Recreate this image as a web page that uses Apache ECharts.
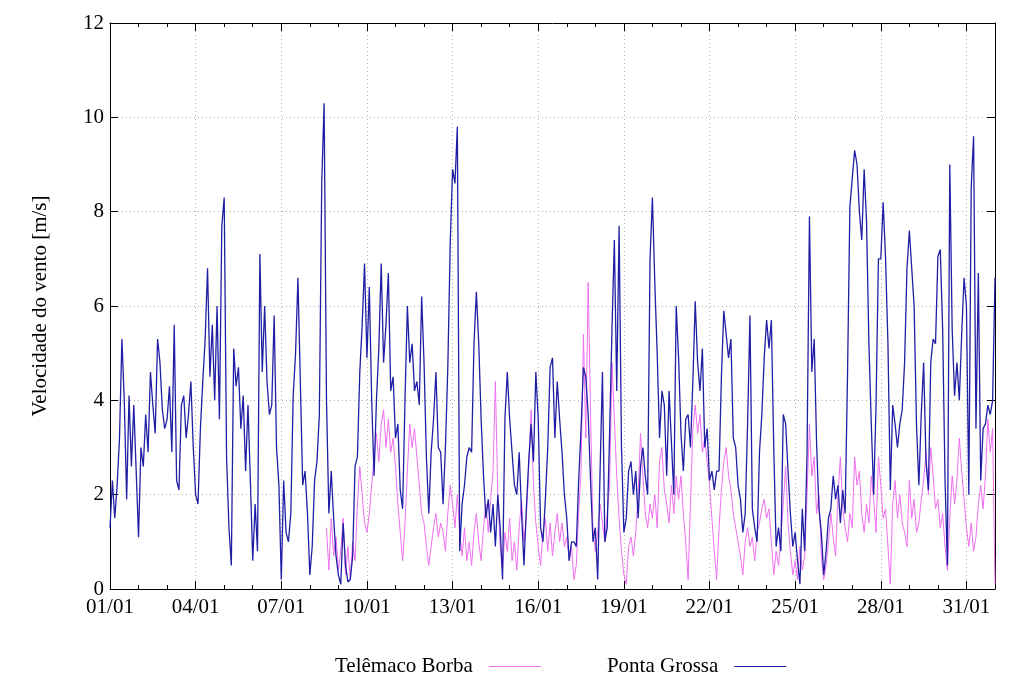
<!DOCTYPE html>
<html>
<head>
<meta charset="utf-8">
<script src="https://cdn.jsdelivr.net/npm/echarts@6/dist/echarts.min.js"></script>
<style>html,body{margin:0;padding:0;background:#fff}#c{width:1024px;height:683px}</style>
</head>
<body>
<div id="c"></div>
<script>
// Wind speed (m/s), 2-hour steps, 12 values per day, January (day 0 = 01/01 00:00)
const seriesNames = ['Telêmaco Borba', 'Ponta Grossa'];
const xTickLabels = ['01/01','04/01','07/01','10/01','13/01','16/01','19/01','22/01','25/01','28/01','31/01'];
const yTicks = [0, 2, 4, 6, 8, 10, 12];

const pontaGrossa = [
  [1.3, 2.3, 1.5, 2.2, 3.2, 5.3, 4.0, 1.9, 4.1, 2.6, 3.9, 2.5],
  [1.1, 3.0, 2.6, 3.7, 2.9, 4.6, 3.9, 3.3, 5.3, 4.8, 3.8, 3.4],
  [3.6, 4.3, 2.9, 5.6, 2.3, 2.1, 3.9, 4.1, 3.2, 3.7, 4.4, 3.0],
  [2.0, 1.8, 3.4, 4.4, 5.3, 6.8, 4.5, 5.6, 4.0, 6.0, 3.6, 7.7],
  [8.3, 2.8, 1.3, 0.5, 5.1, 4.3, 4.7, 3.4, 4.1, 2.5, 3.9, 2.3],
  [0.6, 1.8, 0.8, 7.1, 4.6, 6.0, 4.4, 3.7, 3.9, 5.8, 3.0, 2.2],
  [0.2, 2.3, 1.2, 1.0, 1.6, 4.1, 5.0, 6.6, 4.4, 2.2, 2.5, 1.6],
  [0.3, 0.9, 2.3, 2.7, 3.7, 8.6, 10.3, 4.0, 1.6, 2.5, 1.5, 0.7],
  [0.3, 0.1, 1.4, 0.5, 0.15, 0.2, 0.7, 2.6, 2.8, 4.6, 5.6, 6.9],
  [4.9, 6.4, 4.0, 2.4, 4.0, 5.1, 6.9, 4.8, 5.6, 6.7, 4.2, 4.5],
  [3.2, 3.5, 2.1, 1.7, 4.0, 6.0, 4.8, 5.2, 4.2, 4.4, 3.9, 6.2],
  [4.8, 2.8, 1.6, 2.9, 3.6, 4.6, 3.0, 2.9, 1.8, 3.0, 4.7, 7.3],
  [8.9, 8.6, 9.8, 0.8, 1.8, 2.2, 2.8, 3.0, 2.9, 5.2, 6.3, 5.2],
  [3.6, 2.4, 1.5, 1.9, 1.2, 1.8, 0.9, 2.0, 1.3, 0.2, 3.6, 4.6],
  [3.6, 2.9, 2.2, 2.0, 2.9, 1.6, 0.5, 1.7, 2.7, 3.5, 2.7, 4.6],
  [3.6, 1.3, 1.0, 1.9, 3.0, 4.7, 4.9, 3.2, 4.4, 3.6, 2.9, 2.0],
  [1.5, 0.6, 1.0, 1.0, 0.9, 2.3, 3.4, 4.7, 4.5, 3.7, 2.3, 1.0],
  [1.3, 0.2, 2.5, 4.6, 1.0, 1.3, 3.3, 5.5, 7.4, 4.2, 7.7, 3.0],
  [1.2, 1.5, 2.5, 2.7, 2.0, 2.5, 1.5, 2.6, 3.0, 2.4, 2.0, 7.0],
  [8.3, 6.5, 5.0, 3.2, 4.2, 3.9, 2.4, 4.2, 3.1, 2.0, 6.0, 4.9],
  [3.3, 2.5, 3.6, 3.7, 3.0, 4.4, 6.1, 4.8, 4.2, 5.1, 3.0, 3.4],
  [2.3, 2.5, 2.1, 2.5, 2.5, 4.5, 5.9, 5.4, 4.9, 5.3, 3.2, 3.0],
  [2.2, 1.9, 1.2, 1.6, 3.5, 5.8, 1.7, 1.3, 1.0, 2.9, 3.7, 4.9],
  [5.7, 5.1, 5.7, 3.0, 0.9, 1.3, 0.8, 3.7, 3.5, 2.5, 1.6, 0.9],
  [1.2, 0.6, 0.1, 1.7, 0.8, 2.9, 7.9, 4.6, 5.3, 3.1, 1.7, 1.2],
  [0.3, 0.8, 1.5, 1.7, 2.4, 1.9, 2.2, 1.4, 2.1, 1.6, 4.5, 8.1],
  [8.7, 9.3, 9.0, 8.0, 7.4, 8.9, 7.8, 5.2, 3.5, 2.0, 3.9, 7.0],
  [7.0, 8.2, 7.0, 5.2, 2.1, 3.9, 3.5, 3.0, 3.5, 3.8, 4.8, 6.8],
  [7.6, 6.8, 6.0, 3.5, 2.2, 3.7, 4.8, 2.7, 2.1, 4.8, 5.3, 5.2],
  [7.05, 7.2, 5.5, 2.3, 0.5, 9.0, 5.5, 4.1, 4.8, 4.0, 5.4, 6.6],
  [6.0, 2.0, 8.5, 9.6, 3.4, 6.7, 2.3, 3.4, 3.5, 3.9, 3.7, 4.0],
  [6.6]
];

const telemacoBorba = [
  [], [], [], [], [], [], [],
  [null, null, null, null, null, null, null, 1.3, 0.4, 1.5, 0.7, 1.1],
  [0.4, 0.8, 1.5, 0.3, 0.9, 0.2, 1.0, 0.6, 1.8, 2.6, 2.0, 1.4],
  [1.2, 1.6, 2.2, 2.8, 3.3, 2.7, 3.5, 3.8, 3.0, 3.6, 2.9, 3.2],
  [2.6, 1.8, 1.2, 0.6, 1.4, 2.5, 3.5, 3.0, 3.4, 2.8, 2.2, 1.6],
  [1.4, 0.9, 0.5, 0.9, 1.3, 1.6, 1.1, 1.4, 1.2, 0.8, 1.6, 2.2],
  [1.8, 1.3, 2.0, 1.2, 0.7, 1.3, 0.6, 1.0, 0.5, 1.2, 1.6, 1.0],
  [0.6, 1.3, 1.8, 1.2, 1.9, 2.5, 4.4, 2.0, 0.9, 0.4, 1.2, 0.8],
  [1.5, 0.6, 1.0, 0.4, 1.3, 1.9, 1.0, 1.5, 2.6, 3.8, 2.2, 1.4],
  [0.9, 0.5, 1.2, 1.5, 0.8, 1.4, 0.7, 1.2, 1.6, 1.0, 1.4, 0.9],
  [1.1, 0.6, 0.9, 0.2, 0.5, 1.6, 2.5, 5.4, 3.2, 6.5, 3.7, 1.3],
  [0.8, 1.2, 1.8, 1.4, 1.0, 1.6, 2.2, 4.8, 3.6, 2.4, 1.5, 0.8],
  [0.3, 0.1, 0.9, 1.1, 0.7, 1.2, 2.0, 3.3, 2.4, 1.6, 1.3, 1.8],
  [1.5, 2.0, 1.3, 2.7, 3.0, 2.1, 1.8, 1.4, 2.2, 1.6, 2.4, 1.9],
  [2.4, 1.6, 1.0, 0.2, 1.8, 3.4, 3.9, 3.3, 3.7, 2.9, 3.2, 2.7],
  [2.2, 1.5, 0.8, 0.2, 1.3, 2.1, 2.7, 3.0, 2.4, 2.1, 1.6, 1.3],
  [1.0, 0.7, 0.3, 1.0, 1.3, 0.9, 1.1, 0.6, 1.2, 1.4, 1.7, 1.9],
  [1.5, 1.7, 1.0, 0.3, 0.8, 0.5, 1.1, 1.8, 2.6, 1.4, 0.8, 0.3],
  [0.6, 0.2, 0.9, 0.4, 0.7, 2.0, 3.5, 2.4, 2.8, 1.6, 2.0, 0.7],
  [0.2, 0.5, 1.0, 1.6, 1.1, 0.7, 2.0, 2.8, 1.7, 1.3, 1.0, 1.6],
  [1.3, 2.8, 2.2, 2.5, 1.6, 1.2, 1.8, 1.4, 2.4, 1.9, 1.2, 2.8],
  [2.2, 1.5, 1.7, 0.9, 0.1, 1.8, 2.3, 1.5, 2.0, 1.4, 1.2, 0.9],
  [2.3, 1.5, 1.9, 1.2, 1.4, 1.9, 2.3, 2.9, 2.0, 3.0, 2.4, 1.7],
  [1.9, 1.3, 1.6, 0.9, 0.4, 1.5, 2.4, 1.8, 2.3, 3.2, 2.5, 1.9],
  [1.3, 0.9, 1.4, 0.8, 1.1, 1.8, 2.2, 1.7, 2.4, 3.6, 2.9, 3.4],
  [0.1]
];

const STEP_HOURS = 2, PER_DAY = 12;
function toPairs(days) {
  const out = [];
  days.forEach((vals, d) => vals.forEach((v, i) => {
    if (v !== null) out.push([(d * PER_DAY + i) * STEP_HOURS, v]);
  }));
  return out;
}

const font = 'Liberation Serif';
const chart = echarts.init(document.getElementById('c'), null, {renderer: 'canvas'});
const blk = '#000';
const baseX = {type: 'value', min: 0, max: 744, gridIndex: 0};
const baseY = {type: 'value', min: 0, max: 12, interval: 2};
chart.setOption({
  animation: false,
  backgroundColor: '#fff',
  grid: {left: 110, right: 29, top: 23, bottom: 94},
  legend: {
    top: 651, left: 330, align: 'right', itemGap: 66,
    itemWidth: 52, itemHeight: 1, icon: 'rect',
    textStyle: {fontFamily: font, fontSize: 21, color: '#000', padding: [0, 11, 0, 0]},
    data: seriesNames
  },
  xAxis: [
    Object.assign({}, baseX, {
      position: 'bottom', interval: 72,
      axisLine: {show: true, onZero: false, lineStyle: {color: blk, width: 1}},
      axisTick: {show: true, inside: true, length: 8, lineStyle: {color: blk}},
      axisLabel: {show: true, margin: 8, showMaxLabel: false, fontFamily: font, fontSize: 21, color: '#000',
        formatter: v => xTickLabels[Math.round(v / 72)] || ''},
      splitLine: {show: true, lineStyle: {color: '#b0b0b0', width: 1, type: [1, 3]}}
    }),
    Object.assign({}, baseX, {
      position: 'bottom', interval: 24,
      axisLine: {show: false, onZero: false},
      axisTick: {show: true, inside: true, length: 4, lineStyle: {color: blk}},
      axisLabel: {show: false}, splitLine: {show: false}
    }),
    Object.assign({}, baseX, {
      position: 'top', interval: 72,
      axisLine: {show: true, onZero: false, lineStyle: {color: blk, width: 1}},
      axisTick: {show: true, inside: true, length: 8, lineStyle: {color: blk}},
      axisLabel: {show: false}, splitLine: {show: false}
    }),
    Object.assign({}, baseX, {
      position: 'top', interval: 24,
      axisLine: {show: false, onZero: false},
      axisTick: {show: true, inside: true, length: 4, lineStyle: {color: blk}},
      axisLabel: {show: false}, splitLine: {show: false}
    })
  ],
  yAxis: [
    Object.assign({}, baseY, {
      position: 'left',
      name: 'Velocidade do vento [m/s]', nameLocation: 'middle', nameGap: 59, nameRotate: 90,
      nameTextStyle: {fontFamily: font, fontSize: 21, color: '#000'},
      axisLine: {show: true, onZero: false, lineStyle: {color: blk, width: 1}},
      axisTick: {show: true, inside: true, length: 8, lineStyle: {color: blk}},
      axisLabel: {show: true, margin: 6, fontFamily: font, fontSize: 21, color: '#000',
        formatter: v => yTicks.includes(v) ? String(v) : ''},
      splitLine: {show: true, lineStyle: {color: '#b0b0b0', width: 1, type: [1, 3]}}
    }),
    Object.assign({}, baseY, {
      position: 'right',
      axisLine: {show: true, onZero: false, lineStyle: {color: blk, width: 1}},
      axisTick: {show: true, inside: true, length: 8, lineStyle: {color: blk}},
      axisLabel: {show: false}, splitLine: {show: false}
    })
  ],
  series: [
    {
      name: seriesNames[0], type: 'line', xAxisIndex: 0, yAxisIndex: 0,
      data: toPairs(telemacoBorba), showSymbol: false, symbol: 'none',
      lineStyle: {color: '#f070f0', width: 1},
      itemStyle: {color: '#f070f0'}
    },
    {
      name: seriesNames[1], type: 'line', xAxisIndex: 0, yAxisIndex: 0,
      data: toPairs(pontaGrossa), showSymbol: false, symbol: 'none',
      lineStyle: {color: '#1f1fa6', width: 1.3},
      itemStyle: {color: '#1f1fa6'}
    }
  ]
});
</script>
</body>
</html>
